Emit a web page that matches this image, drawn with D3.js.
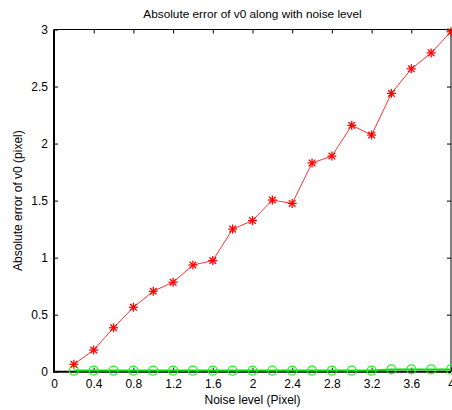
<!DOCTYPE html>
<html>
<head>
<meta charset="utf-8">
<script src="https://cdn.jsdelivr.net/npm/d3@7"></script>
<style>
  html, body { margin: 0; padding: 0; background: #fff; }
  svg { display: block; font-family: "Liberation Sans", Arial, sans-serif; }
</style>
</head>
<body>
<svg id="chart" width="452" height="410"></svg>
<script>
// Noise levels (pixel) on the x axis
const noiseLevels = [0.2, 0.4, 0.6, 0.8, 1.0, 1.2, 1.4, 1.6, 1.8, 2.0,
                     2.2, 2.4, 2.6, 2.8, 3.0, 3.2, 3.4, 3.6, 3.8, 4.0];
// Absolute error of v0, first method (red, asterisks)
const errorRed = [0.065, 0.19, 0.385, 0.565, 0.705, 0.785, 0.935, 0.975, 1.25, 1.325,
                  1.505, 1.475, 1.83, 1.89, 2.16, 2.075, 2.44, 2.655, 2.795, 2.98];
// Absolute error of v0, second method (green, circles)
const errorGreen = [0.01, 0.01, 0.01, 0.01, 0.01, 0.01, 0.01, 0.01, 0.01, 0.01,
                    0.01, 0.01, 0.01, 0.01, 0.01, 0.01, 0.02, 0.02, 0.02, 0.02];
const xTicks = [0, 0.4, 0.8, 1.2, 1.6, 2, 2.4, 2.8, 3.2, 3.6, 4];
const yTicks = [0, 0.5, 1, 1.5, 2, 2.5, 3];

const svg = d3.select("#chart");
const plotLeft = 54, plotRight = 451, plotTop = 29.5, plotBottom = 371.7;

const x = d3.scaleLinear().domain([0, 4]).range([plotLeft, plotRight]);
const y = d3.scaleLinear().domain([0, 3]).range([plotBottom, plotTop]);

// Title
svg.append("text")
  .attr("x", (plotLeft + plotRight) / 2).attr("y", 18)
  .attr("text-anchor", "middle")
  .attr("font-size", 11.8)
  .text("Absolute error of v0 along with noise level");

// Axes with inward ticks
const tickLen = 4;
const gBottom = svg.append("g").attr("transform", `translate(0,${plotBottom})`)
  .call(d3.axisBottom(x).tickValues(xTicks).tickFormat(d3.format("")).tickSizeInner(-tickLen).tickSizeOuter(0).tickPadding(8));
const gTop = svg.append("g").attr("transform", `translate(0,${plotTop})`)
  .call(d3.axisTop(x).tickValues(xTicks).tickFormat("").tickSizeInner(-tickLen).tickSizeOuter(0));
const gLeft = svg.append("g").attr("transform", `translate(${plotLeft},0)`)
  .call(d3.axisLeft(y).tickValues(yTicks).tickFormat(d3.format("")).tickSizeInner(-tickLen).tickSizeOuter(0).tickPadding(6));
const gRight = svg.append("g").attr("transform", `translate(${plotRight},0)`)
  .call(d3.axisRight(y).tickValues(yTicks).tickFormat("").tickSizeInner(-tickLen).tickSizeOuter(0));

[gBottom, gTop, gLeft, gRight].forEach(g => {
  g.selectAll("text").attr("font-size", 12).attr("fill", "#000")
    .attr("font-family", "Liberation Sans, Arial, sans-serif");
  g.selectAll("line").attr("stroke", "#000");
  g.select(".domain").remove();
});

// Box frame
svg.append("line").attr("x1", plotLeft).attr("x2", plotRight).attr("y1", plotTop).attr("y2", plotTop)
  .attr("stroke", "#000").attr("stroke-width", 1);
svg.append("line").attr("x1", plotRight).attr("x2", plotRight).attr("y1", plotTop).attr("y2", plotBottom)
  .attr("stroke", "#000").attr("stroke-width", 1);
svg.append("line").attr("x1", plotLeft).attr("x2", plotLeft).attr("y1", plotTop).attr("y2", plotBottom + 1)
  .attr("stroke", "#000").attr("stroke-width", 2);
svg.append("line").attr("x1", plotLeft).attr("x2", plotRight).attr("y1", plotBottom).attr("y2", plotBottom)
  .attr("stroke", "#000").attr("stroke-width", 2);

// Axis labels
svg.append("text")
  .attr("x", (plotLeft + plotRight) / 2).attr("y", 404)
  .attr("text-anchor", "middle").attr("font-size", 12)
  .text("Noise level (Pixel)");
svg.append("text")
  .attr("transform", `translate(22,${(plotTop + plotBottom) / 2}) rotate(-90)`)
  .attr("text-anchor", "middle").attr("font-size", 12)
  .text("Absolute error of v0 (pixel)");

const line = d3.line().x(d => x(d[0])).y(d => y(d[1]));

// Green series: thick line with circles
const greenData = noiseLevels.map((n, i) => [n, errorGreen[i]]);
svg.append("path").datum(greenData).attr("d", line)
  .attr("fill", "none").attr("stroke", "#00e000").attr("stroke-width", 2);
svg.selectAll(".gc").data(greenData).enter().append("circle")
  .attr("cx", d => x(d[0])).attr("cy", d => y(d[1])).attr("r", 4.5)
  .attr("fill", "none").attr("stroke", "#22ee22").attr("stroke-width", 1.2);

// Red series: thin line with asterisk markers
const redData = noiseLevels.map((n, i) => [n, errorRed[i]]);
svg.append("path").datum(redData).attr("d", line)
  .attr("fill", "none").attr("stroke", "#ff3333").attr("stroke-width", 1);
const star = svg.selectAll(".rs").data(redData).enter().append("g")
  .attr("transform", d => `translate(${x(d[0])},${y(d[1])})`);
const s = 4.5, sd = 3.3;
[[-s, 0, s, 0], [0, -s, 0, s], [-sd, -sd, sd, sd], [-sd, sd, sd, -sd]].forEach(c => {
  star.append("line").attr("x1", c[0]).attr("y1", c[1]).attr("x2", c[2]).attr("y2", c[3])
    .attr("stroke", "#ff0000").attr("stroke-width", 1.3);
});
</script>
</body>
</html>
